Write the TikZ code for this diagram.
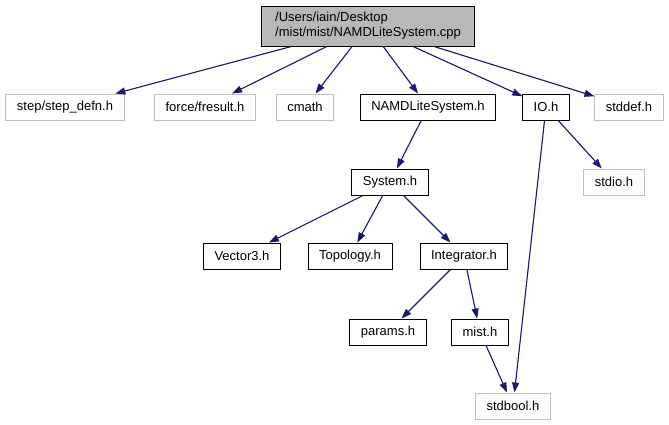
\documentclass[tikz,border=0pt]{standalone}
\usepackage{fontspec}
\setsansfont{Liberation Sans}
\usetikzlibrary{positioning, arrows.meta}
\definecolor{midnight}{HTML}{191970}

\begin{document}
\begin{tikzpicture}[
    >={Triangle[length=10pt,width=7pt]},
    font=\sffamily\fontsize{13}{15}\selectfont,
    hdr/.style={
        draw=black, line width=0.9pt,
        minimum height=26pt, inner xsep=11pt, inner ysep=0pt,
    },
    sys/.style={hdr, draw=black!25},
    top/.style={hdr, fill=black!28, align=left, minimum height=40pt, minimum width=213pt},
    dep/.style={->, draw=midnight, fill=midnight, line width=1.1pt},
]

\useasboundingbox (0,0) rectangle (669pt,-425pt);

\def\rowA{-26}
\def\rowB{-107}
\def\rowC{-182}
\def\rowD{-256}
\def\rowE{-332}
\def\rowF{-406}

\node[top] (root) at (368pt,\rowA pt) {/Users/iain/Desktop\\/mist/mist/NAMDLiteSystem.cpp};

% first level
\node[sys] (step)   at (65pt,\rowB pt)  {step/step\_defn.h};
\node[sys] (fres)   at (205pt,\rowB pt) {force/fresult.h};
\node[sys] (cmath)  at (305pt,\rowB pt) {cmath};
\node[hdr] (namd)   at (428pt,\rowB pt) {NAMDLiteSystem.h};
\node[hdr] (io)     at (546pt,\rowB pt) {IO.h};
\node[sys] (stddef) at (629pt,\rowB pt) {stddef.h};

\node[hdr] (system) at (390pt,\rowC pt) {System.h};
\node[sys] (stdio)  at (614pt,\rowC pt) {stdio.h};

\node[hdr] (vec)    at (242pt,\rowD pt) {Vector3.h};
\node[hdr] (topo)   at (350pt,\rowD pt) {Topology.h};
\node[hdr] (integ)  at (464pt,\rowD pt) {Integrator.h};

\node[hdr] (params) at (388pt,\rowE pt) {params.h};
\node[hdr] (mist)   at (480pt,\rowE pt) {mist.h};

\node[sys] (stdbool) at (513pt,\rowF pt) {stdbool.h};

% includes
\foreach \t in {step, fres, cmath, namd, io, stddef}
    \draw[dep] (root) -- (\t);
\draw[dep] (namd) -- (system);
\foreach \t in {vec, topo, integ}
    \draw[dep] (system) -- (\t);
\draw[dep] (integ) -- (params);
\draw[dep] (integ) -- (mist);
\draw[dep] (mist) -- (stdbool);
\draw[dep] (io) -- (stdio);
\draw[dep] (io) -- (stdbool);

\end{tikzpicture}
\end{document}
